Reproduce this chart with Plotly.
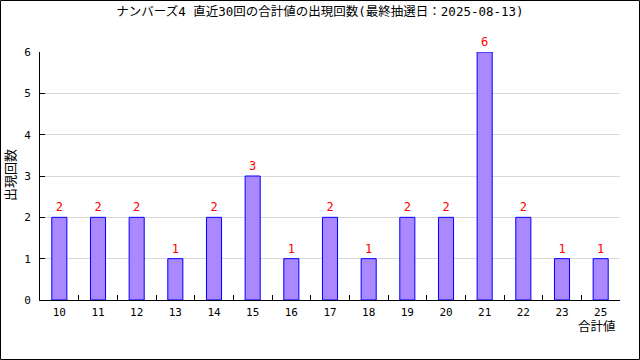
import plotly.graph_objects as go

categories = ["10", "11", "12", "13", "14", "15", "16", "17", "18", "19", "20", "21", "22", "23", "25"]
counts = [2, 2, 2, 1, 2, 3, 1, 2, 1, 2, 2, 6, 2, 1, 1]
title_text = "ナンバーズ4 直近30回の合計値の出現回数(最終抽選日：2025-08-13)"
x_title = "合計値"
y_title = "出現回数"

W, H = 640, 360
L, R, T, B = 40, 20, 52, 60
pw, ph = W - L - R, H - T - B
FONT = "DejaVu Sans Mono, Noto Sans CJK JP"

fig = go.Figure(go.Bar(
    x=categories, y=counts,
    marker=dict(color="#aa88ff", line=dict(color="#0000ff", width=1)),
    text=[str(c) for c in counts], textposition="outside",
    textfont=dict(color="#ff0000", size=12, family="DejaVu Sans Mono"),
    cliponaxis=False,
))

fig.update_layout(
    width=W, height=H,
    margin=dict(l=L, r=R, t=T, b=B, autoexpand=False),
    paper_bgcolor="white", plot_bgcolor="white",
    bargap=0.61,
    showlegend=False,
    title=dict(text=title_text, x=0.5, xanchor="center", y=1 - 12 / H, yanchor="middle",
               font=dict(family=FONT, size=12.5, color="#000")),
    font=dict(family="DejaVu Sans Mono", size=11, color="#000"),
    xaxis=dict(type="category", showline=True, linecolor="#000", linewidth=1,
               ticks="inside", ticklen=5, tickcolor="#000", tickson="boundaries",
               showgrid=False, tickfont=dict(size=11), ticklabelstandoff=2),
    yaxis=dict(range=[0, 6], dtick=1, showline=True, linecolor="#000", linewidth=1,
               ticks="inside", ticklen=5, tickcolor="#000",
               showgrid=True, gridcolor="#d9d9d9", gridwidth=1, zeroline=False,
               tickfont=dict(size=11), ticklabelstandoff=6),
)

fig.add_annotation(text=x_title, xref="paper", yref="paper", x=1 - 2 / pw, y=-(326 - 300) / ph,
                   xanchor="right", yanchor="middle", showarrow=False,
                   font=dict(family=FONT, size=12.5, color="#000"))
fig.add_annotation(text=y_title, xref="paper", yref="paper", x=(10 - L) / pw, y=(300 - 175) / ph,
                   xanchor="center", yanchor="middle", showarrow=False, textangle=-90,
                   font=dict(family=FONT, size=13, color="#000"))
fig.add_shape(type="rect", xref="paper", yref="paper",
              x0=(0.5 - L) / pw, x1=(W - 0.5 - L) / pw,
              y0=-(H - 0.5 - T - ph) / ph, y1=1 + (T - 0.5) / ph,
              line=dict(color="#000", width=1), fillcolor="rgba(0,0,0,0)", layer="above")

fig.write_html("out.html", config={"displayModeBar": False},
               post_script="document.body.style.margin='0';document.body.style.overflow='hidden';")
